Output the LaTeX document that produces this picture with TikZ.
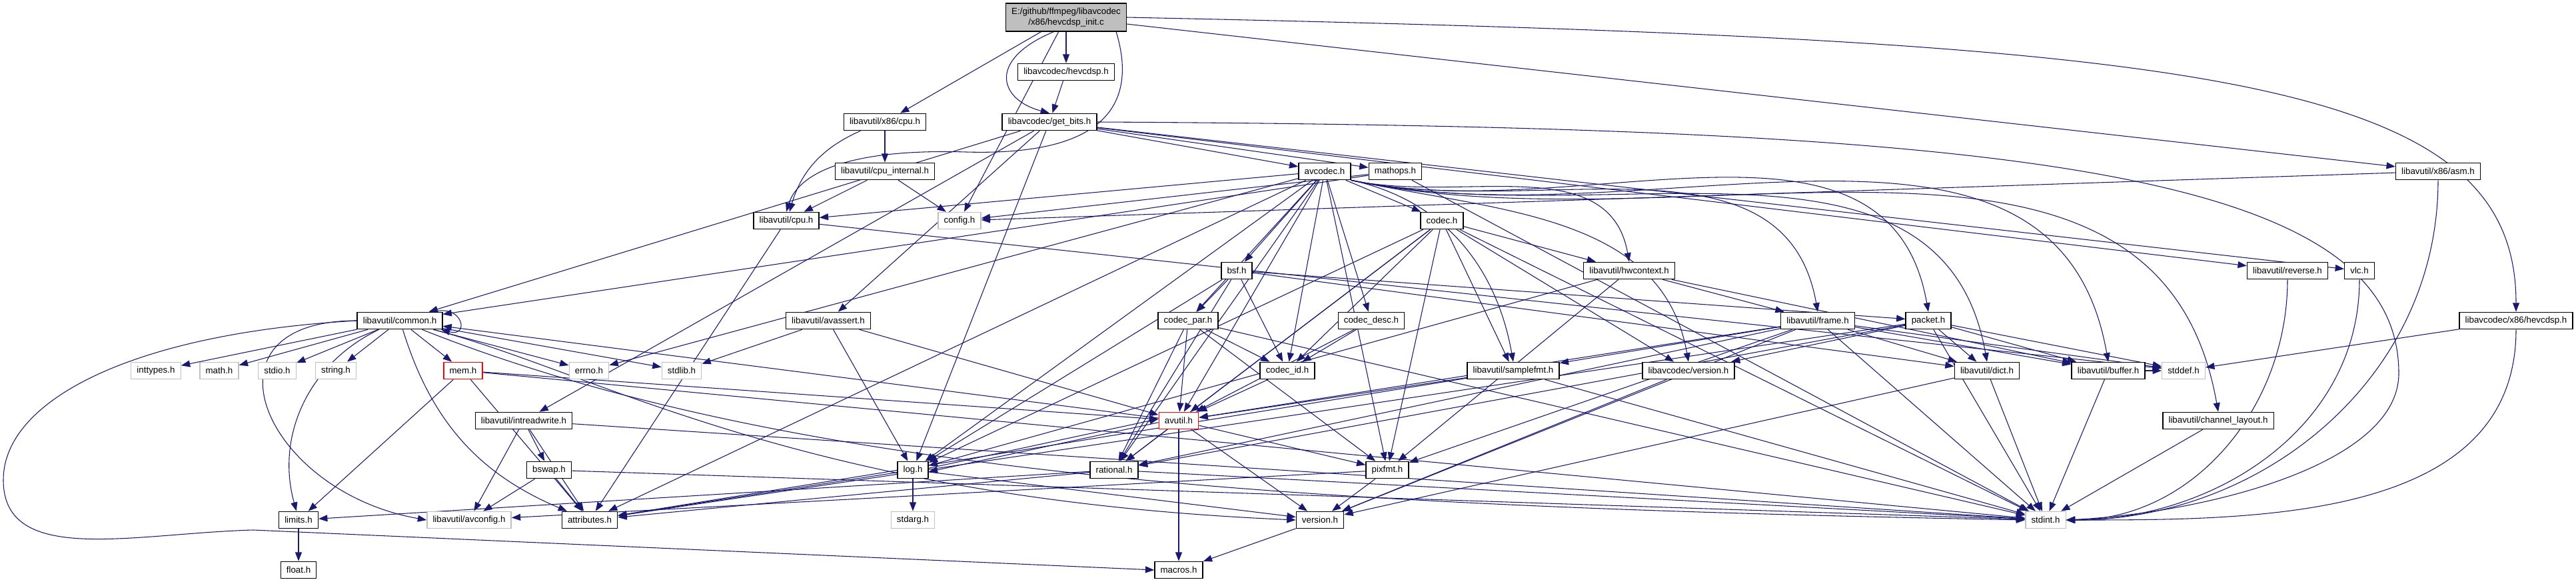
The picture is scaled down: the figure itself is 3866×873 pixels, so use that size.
\documentclass[tikz,border=0pt]{standalone}
\usepackage{fontspec}
\setmainfont{Liberation Sans}
\usepackage{xcolor}
\usepackage{tikz}
\usetikzlibrary{arrows.meta,positioning,backgrounds}
\definecolor{dxedge}{HTML}{191970}
\definecolor{dxgray}{HTML}{BFBFBF}
\definecolor{dxred}{HTML}{FF0000}
\definecolor{dxink}{HTML}{000000}
\definecolor{dxpaper}{HTML}{FFFFFF}
\tikzset{
  hdr/.style={rectangle,draw=dxink,line width=1pt,fill=dxpaper,minimum height=19pt,
              inner xsep=6.5pt,inner ysep=0pt,font=\fontsize{10}{12}\selectfont,text=dxink},
  sys/.style={hdr,draw=dxgray},
  trunc/.style={hdr,draw=dxred},
  root/.style={hdr,fill=dxgray,align=center,minimum height=31.5pt,inner ysep=4pt},
  dep/.style={-{Triangle[length=10pt,width=7.5pt]},line width=0.8pt,draw=dxedge},
}

\begin{document}
\begin{tikzpicture}[x=0.75pt,y=-0.75pt]
  \useasboundingbox (0,0) rectangle (3866,873);
  \node[root] (main) at (1600,26) {E:/github/ffmpeg/libavcodec\\/x86/hevcdsp\_init.c};
  \node[hdr] (hevcdsp) at (1600,108) {libavcodec/hevcdsp.h};
  \node[hdr] (x86cpu) at (1328,183) {libavutil/x86/cpu.h};
  \node[hdr] (getbits) at (1575,183) {libavcodec/get\_bits.h};
  \node[hdr] (cpuint) at (1328,257) {libavutil/cpu\_internal.h};
  \node[hdr] (avcodec) at (1988,257) {avcodec.h};
  \node[hdr] (mathops) at (2094,257) {mathops.h};
  \node[hdr] (asm) at (3659,257) {libavutil/x86/asm.h};
  \node[hdr] (cpu) at (1180,331) {libavutil/cpu.h};
  \node[sys] (config) at (1440,331) {config.h};
  \node[hdr] (codec) at (2164,331) {codec.h};
  \node[hdr] (bsf) at (1856,406) {bsf.h};
  \node[hdr] (hwcontext) at (2445,406) {libavutil/hwcontext.h};
  \node[hdr] (reverse) at (3433,406) {libavutil/reverse.h};
  \node[hdr] (vlc) at (3541,406) {vlc.h};
  \node[hdr] (common) at (600,481) {libavutil/common.h};
  \node[hdr] (avassert) at (1243,481) {libavutil/avassert.h};
  \node[hdr] (codecpar) at (1783,481) {codec\_par.h};
  \node[hdr] (codecdesc) at (2058,481) {codec\_desc.h};
  \node[hdr] (frame) at (2728,481) {libavutil/frame.h};
  \node[hdr] (packet) at (2894,481) {packet.h};
  \node[hdr] (x86hevcdsp) at (3776,481) {libavcodec/x86/hevcdsp.h};
  \node[sys] (inttypes) at (234,556) {inttypes.h};
  \node[sys] (math) at (329,556) {math.h};
  \node[sys] (stdio) at (416,556) {stdio.h};
  \node[sys] (string) at (504,556) {string.h};
  \node[trunc] (mem) at (695,556) {mem.h};
  \node[sys] (errno) at (884,556) {errno.h};
  \node[sys] (stdlib) at (1023,556) {stdlib.h};
  \node[hdr] (codecid) at (1932,556) {codec\_id.h};
  \node[hdr] (samplefmt) at (2271,556) {libavutil/samplefmt.h};
  \node[hdr] (lavcversion) at (2534,556) {libavcodec/version.h};
  \node[hdr] (dict) at (2982,556) {libavutil/dict.h};
  \node[hdr] (buffer) at (3164,556) {libavutil/buffer.h};
  \node[sys] (stddef) at (3277,556) {stddef.h};
  \node[hdr] (intreadwrite) at (786,631) {libavutil/intreadwrite.h};
  \node[trunc] (avutil) at (1769,631) {avutil.h};
  \node[hdr] (chlayout) at (3329,631) {libavutil/channel\_layout.h};
  \node[hdr] (bswap) at (824,705) {bswap.h};
  \node[hdr] (log) at (1370,705) {log.h};
  \node[hdr] (rational) at (1672,705) {rational.h};
  \node[hdr] (pixfmt) at (2082,705) {pixfmt.h};
  \node[hdr] (limits) at (448,780) {limits.h};
  \node[sys] (avconfig) at (704,780) {libavutil/avconfig.h};
  \node[hdr] (attributes) at (885,780) {attributes.h};
  \node[sys] (stdarg) at (1370,780) {stdarg.h};
  \node[hdr] (version) at (1981,780) {version.h};
  \node[sys] (stdint) at (3070,780) {stdint.h};
  \node[hdr] (float) at (448,855) {float.h};
  \node[hdr] (macros) at (1769,855) {macros.h};
  \begin{scope}[on background layer]
    \fill[dxpaper] (0,0) rectangle (3866,873);
    \foreach \a/\b in {main/x86cpu, main/config, main/hevcdsp, main/asm, hevcdsp/getbits,
        x86cpu/cpuint, cpuint/config, cpuint/cpu,
        getbits/common, getbits/intreadwrite, getbits/log, getbits/avassert, getbits/avcodec,
        getbits/mathops, getbits/vlc, getbits/reverse,
        mathops/config, mathops/common, mathops/stdint, asm/config, x86hevcdsp/stddef,
        avcodec/errno, avcodec/attributes, avcodec/avutil,
        avcodec/cpu, avcodec/log, avcodec/pixfmt, avcodec/rational, avcodec/bsf, avcodec/codec,
        avcodec/codecdesc, avcodec/codecpar, avcodec/codecid,
        codec/stdint, codec/avutil, codec/hwcontext, codec/log, codec/pixfmt, codec/rational,
        codec/samplefmt, codec/codecid, codec/lavcversion,
        bsf/dict, bsf/log, bsf/rational, bsf/codecid, bsf/codecpar, bsf/packet,
        hwcontext/buffer, hwcontext/frame, hwcontext/log, hwcontext/pixfmt,
        cpu/stddef, cpu/attributes,
        common/errno, common/inttypes, common/math, common/stdio, common/stdlib, common/string, common/mem,
        avassert/stdlib, avassert/avutil, avassert/log,
        codecpar/stdint, codecpar/avutil, codecpar/rational, codecpar/pixfmt, codecpar/codecid,
        codecdesc/avutil, codecdesc/codecid,
        frame/stddef, frame/stdint, frame/avutil, frame/buffer, frame/dict, frame/rational,
        frame/samplefmt, frame/pixfmt, frame/version,
        packet/stddef, packet/stdint, packet/attributes, packet/buffer, packet/dict,
        packet/rational, packet/lavcversion,
        mem/limits, mem/stdint, mem/attributes, mem/avutil, codecid/avutil,
        samplefmt/stdint, samplefmt/avutil, samplefmt/attributes,
        lavcversion/version, dict/stdint, dict/version, buffer/stddef, buffer/stdint,
        intreadwrite/stdint, intreadwrite/avconfig, intreadwrite/attributes, intreadwrite/bswap,
        avutil/common, avutil/rational, avutil/version, avutil/macros, avutil/pixfmt,
        chlayout/stdint, bswap/stdint, bswap/avconfig, bswap/attributes,
        log/stdarg, log/attributes, log/version,
        rational/stdint, rational/limits, rational/attributes,
        pixfmt/avconfig, pixfmt/version, limits/float, version/macros}{
      \draw[dep] (\a) -- (\b);
    }
    \foreach \b in {samplefmt,lavcversion,hwcontext,frame,packet,dict,buffer,chlayout}{
      \draw[dep] (avcodec.south east) to[out=-12,in=100] (\b.north);
    }
    \draw[dep] ([xshift=-14pt]main.south) .. controls (1480,90) and (1500,150) .. (getbits.north);
    \draw[dep] ([xshift=-12pt]main.south east) .. controls (1700,130) and (1690,235) .. (1450,228)
               .. controls (1250,222) and (1195,270) .. (cpu.north);
    \draw[dep] (main.east) .. controls (3300,60) and (3776,110) .. (x86hevcdsp.north);
    \draw[dep] (x86cpu) to[bend right=25] (cpu);
    \draw[dep] (getbits.east) .. controls (3000,190) and (3600,250) .. (3600,560)
               .. controls (3600,700) and (3300,770) .. (stdint.east);
    \foreach \a in {asm,x86hevcdsp,vlc,reverse}{
      \draw[dep] (\a.south) to[out=-90,in=0] (stdint.east);
    }
    \draw[dep] ([xshift=-10pt]common.north east) to[out=15,in=-15,looseness=4] ([xshift=-2pt]common.south east);
    \draw[dep] (common) to[bend right=40] (limits);
    \draw[dep] (common.west) to[out=180,in=170,looseness=2] (avconfig.west);
    \draw[dep] (common) to[bend right=25] (attributes);
    \draw[dep] (common) .. controls (900,560) and (1200,748) .. (version.west);
    \draw[dep] (common) .. controls (1200,720) and (2000,760) .. (stdint.west);
    \draw[dep] (common.west) .. controls (200,500) and (5,600) .. (5,720)
               .. controls (5,850) and (200,800) .. (380,795) -- (macros.west);
    \draw[dep] ([yshift=2pt]log.east) -- ([yshift=2pt]avutil.west);
    \draw[dep] ([yshift=-2pt]avutil.west) -- ([yshift=-2pt]log.east);
  \end{scope}
\end{tikzpicture}
\end{document}
